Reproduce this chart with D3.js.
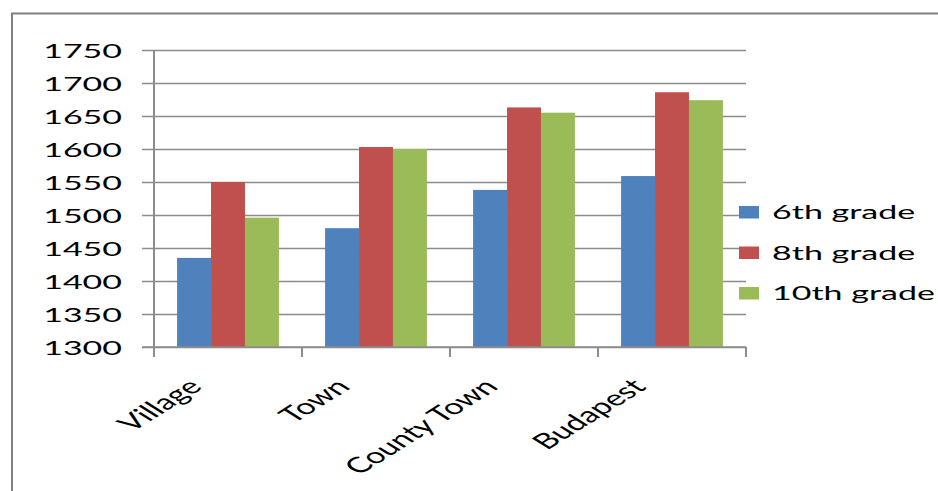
<!DOCTYPE html>
<html>
<head>
<meta charset="utf-8">
<script src="https://cdn.jsdelivr.net/npm/d3@7"></script>
<style>
  html, body { margin: 0; padding: 0; background: #ffffff; }
  svg { display: block; }
  text { font-family: Lato, "Liberation Sans", sans-serif; fill: #000; }
</style>
</head>
<body>
<svg id="chart" width="938" height="491"></svg>
<script>
const categories = ["Village", "Town", "County Town", "Budapest"];
const seriesNames = ["6th grade", "8th grade", "10th grade"];
const grade6 = [1435, 1480, 1538, 1559];
const grade8 = [1550, 1603, 1663, 1686];
const grade10 = [1496, 1600, 1655, 1674];
const yTicks = [1300, 1350, 1400, 1450, 1500, 1550, 1600, 1650, 1700, 1750];
const colors = ["#4F81BD", "#C0504D", "#9BBB59"];

const seriesValues = [grade6, grade8, grade10];
const table = categories.map((c, i) => ({
  category: c,
  values: seriesNames.map((s, j) => ({ series: s, value: seriesValues[j][i], color: colors[j] }))
}));

const svg = d3.select("#chart");
const W = 938, H = 491;
const plot = { left: 154, right: 746, top: 50, bottom: 347 };
const sx = 1.7;   // horizontal stretch of axis / legend text
const sxl = 1.6;  // horizontal stretch of rotated category labels

svg.append("rect").attr("width", W).attr("height", H).attr("fill", "#fff");
// outer frame
svg.append("rect").attr("x", 12).attr("y", 13.5).attr("width", 1000).attr("height", 600)
  .attr("fill", "none").attr("stroke", "#808080").attr("stroke-width", 2);

const x = d3.scaleBand().domain(categories).range([plot.left, plot.right]).paddingInner(0).paddingOuter(0);
const x1 = d3.scaleBand().domain(seriesNames).range([0, x.bandwidth()]).paddingInner(0).paddingOuter(0.68);
const y = d3.scaleLinear().domain([1300, 1750]).range([plot.bottom, plot.top]);

// gridlines + y labels
const gy = svg.append("g").attr("transform", `translate(${plot.left - 12},0)`)
  .call(d3.axisLeft(y).tickValues(yTicks).tickFormat(d3.format("d"))
    .tickSizeInner(-(plot.right - plot.left + 12)).tickSizeOuter(0).tickPadding(20));
gy.select(".domain").remove();
gy.selectAll(".tick line").attr("stroke", "#8c8c8c").attr("stroke-width", 1.6);
gy.selectAll(".tick text")
  .attr("x", 0).attr("dy", "0.36em")
  .attr("transform", `translate(-20,0) scale(${sx},1)`)
  .attr("font-size", 20).attr("font-family", "Lato, 'Liberation Sans', sans-serif")
  .attr("fill", "#000");

// bars
const groups = svg.append("g").selectAll("g").data(table).join("g")
  .attr("transform", d => `translate(${x(d.category)},0)`);
groups.selectAll("rect").data(d => d.values).join("rect")
  .attr("x", d => x1(d.series))
  .attr("width", x1.bandwidth())
  .attr("y", d => y(d.value))
  .attr("height", d => y(1300) - y(d.value))
  .attr("fill", d => d.color);

// axes lines
svg.append("line").attr("x1", plot.left).attr("x2", plot.left)
  .attr("y1", y(1750)).attr("y2", y(1300) + 10)
  .attr("stroke", "#8c8c8c").attr("stroke-width", 2);
svg.append("line").attr("x1", plot.left - 12).attr("x2", plot.right)
  .attr("y1", y(1300)).attr("y2", y(1300))
  .attr("stroke", "#8c8c8c").attr("stroke-width", 1.6);
const boundaries = categories.map(c => x(c)).concat([x(categories[categories.length - 1]) + x.bandwidth()]);
svg.append("g").selectAll("line").data(boundaries).join("line")
  .attr("x1", d => d).attr("x2", d => d)
  .attr("y1", y(1300)).attr("y2", y(1300) + 10)
  .attr("stroke", "#8c8c8c").attr("stroke-width", 2);

// x labels
svg.append("g").selectAll("text").data(categories).join("text")
  .attr("transform", d => `translate(${x(d) + x.bandwidth() / 2 - 42},377) scale(${sxl},1) rotate(-45)`)
  .attr("text-anchor", "end")
  .attr("dy", "0.72em")
  .attr("font-size", 21.5)
  .text(d => d);

// legend
const leg = svg.append("g").selectAll("g").data(seriesNames).join("g")
  .attr("transform", (d, i) => `translate(739,${212 + i * 40.5})`);
leg.append("rect").attr("x", 0).attr("y", -6).attr("width", 20).attr("height", 12.5)
  .attr("fill", (d, i) => colors[i]);
leg.append("text").attr("transform", `translate(33,0) scale(${sx},1)`)
  .attr("dy", "0.36em").attr("font-size", 20).text(d => d);
</script>
</body>
</html>
